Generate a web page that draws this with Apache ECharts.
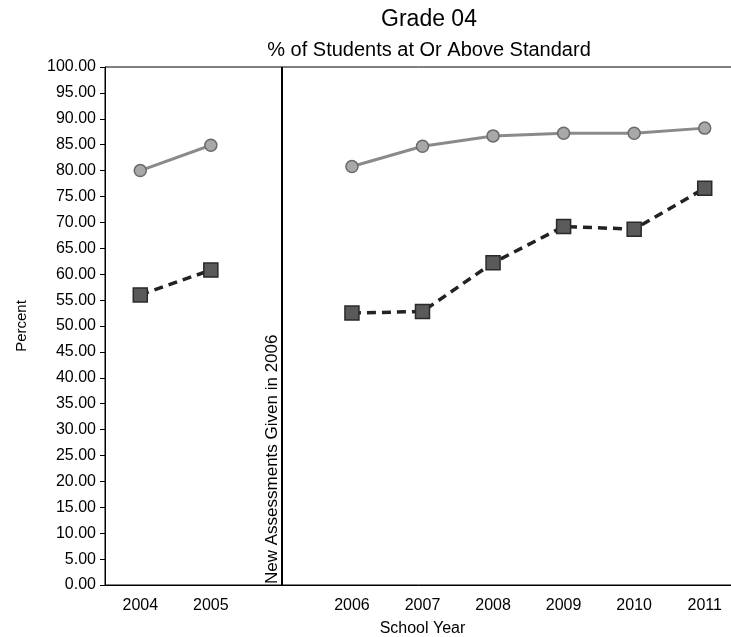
<!DOCTYPE html>
<html>
<head>
<meta charset="utf-8">
<style>html,body{margin:0;padding:0;background:#fff}#c{width:731px;height:637px}</style>
<script src="https://cdn.jsdelivr.net/npm/echarts@6/dist/echarts.min.js"></script>
</head>
<body>
<div id="c"></div>
<script>
var categories = ['2004', '2005', ' ', '2006', '2007', '2008', '2009', '2010', '2011'];
var meetStandard = [80.0, 84.9, null, 80.8, 84.7, 86.7, 87.2, 87.2, 88.2];
var exceedStandard = [56.0, 60.8, null, 52.5, 52.8, 62.2, 69.2, 68.7, 76.6];
var breakCategory = ' ';
var breakLabel = 'New Assessments Given in 2006';
var titleText = 'Grade 04';
var subtitleText = '% of Students at Or Above Standard';

var FONT = 'Liberation Sans, Arial, sans-serif';
var chart = echarts.init(document.getElementById('c'));
chart.setOption({
  animation: false,
  backgroundColor: '#fff',
  title: [
    {text: titleText, left: 424, textAlign: 'center', top: 3,
     textStyle: {fontFamily: FONT, fontSize: 23, fontWeight: 'normal', color: '#000'}},
    {text: subtitleText, left: 424, textAlign: 'center', top: 35,
     textStyle: {fontFamily: FONT, fontSize: 20, fontWeight: 'normal', color: '#000'}}
  ],
  grid: {left: 105, top: 67, height: 518, width: 635, containLabel: false, outerBoundsMode: 'none',
         show: true, borderColor: '#000', borderWidth: 1, backgroundColor: 'transparent'},
  xAxis: {
    type: 'category', data: categories, boundaryGap: true,
    name: 'School Year', nameLocation: 'middle', nameGap: 36,
    nameTextStyle: {fontFamily: FONT, fontSize: 16, color: '#000'},
    axisLine: {lineStyle: {color: '#000', width: 1}},
    axisTick: {alignWithLabel: true, length: 5, lineStyle: {color: '#000'}},
    axisLabel: {fontFamily: FONT, fontSize: 16, color: '#000', margin: 13},
    splitLine: {show: false}
  },
  yAxis: {
    type: 'value', min: 0, max: 100, interval: 5,
    name: 'Percent', nameLocation: 'middle', nameGap: 76,
    nameTextStyle: {fontFamily: FONT, fontSize: 15, color: '#000'},
    axisLine: {show: true, lineStyle: {color: '#000', width: 1}},
    axisTick: {show: true, length: 5, lineStyle: {color: '#000'}},
    axisLabel: {fontFamily: FONT, fontSize: 16, color: '#000', margin: 9,
      formatter: function (v) { return v.toFixed(2); }},
    splitLine: {show: false}
  },
  series: [
    {
      type: 'line', data: meetStandard, connectNulls: false,
      symbol: 'circle', symbolSize: 12,
      lineStyle: {color: '#8a8a8a', width: 3, type: 'solid'},
      itemStyle: {color: '#a8a8a8', borderColor: '#6a6a6a', borderWidth: 1.5},
      markLine: {
        silent: true, symbol: ['none', 'none'],
        lineStyle: {color: '#000', width: 2, type: 'solid'},
        label: {show: true, position: 'insideStartTop', formatter: breakLabel,
          fontFamily: FONT, fontSize: 17, color: '#000', distance: 1},
        data: [{xAxis: breakCategory}]
      }
    },
    {
      type: 'line', data: exceedStandard, connectNulls: false,
      symbol: 'rect', symbolSize: 14,
      lineStyle: {color: '#222', width: 3.5, type: [9, 6]},
      itemStyle: {color: '#5a5a5a', borderColor: '#2a2a2a', borderWidth: 1.5}
    }
  ]
});
</script>
</body>
</html>
